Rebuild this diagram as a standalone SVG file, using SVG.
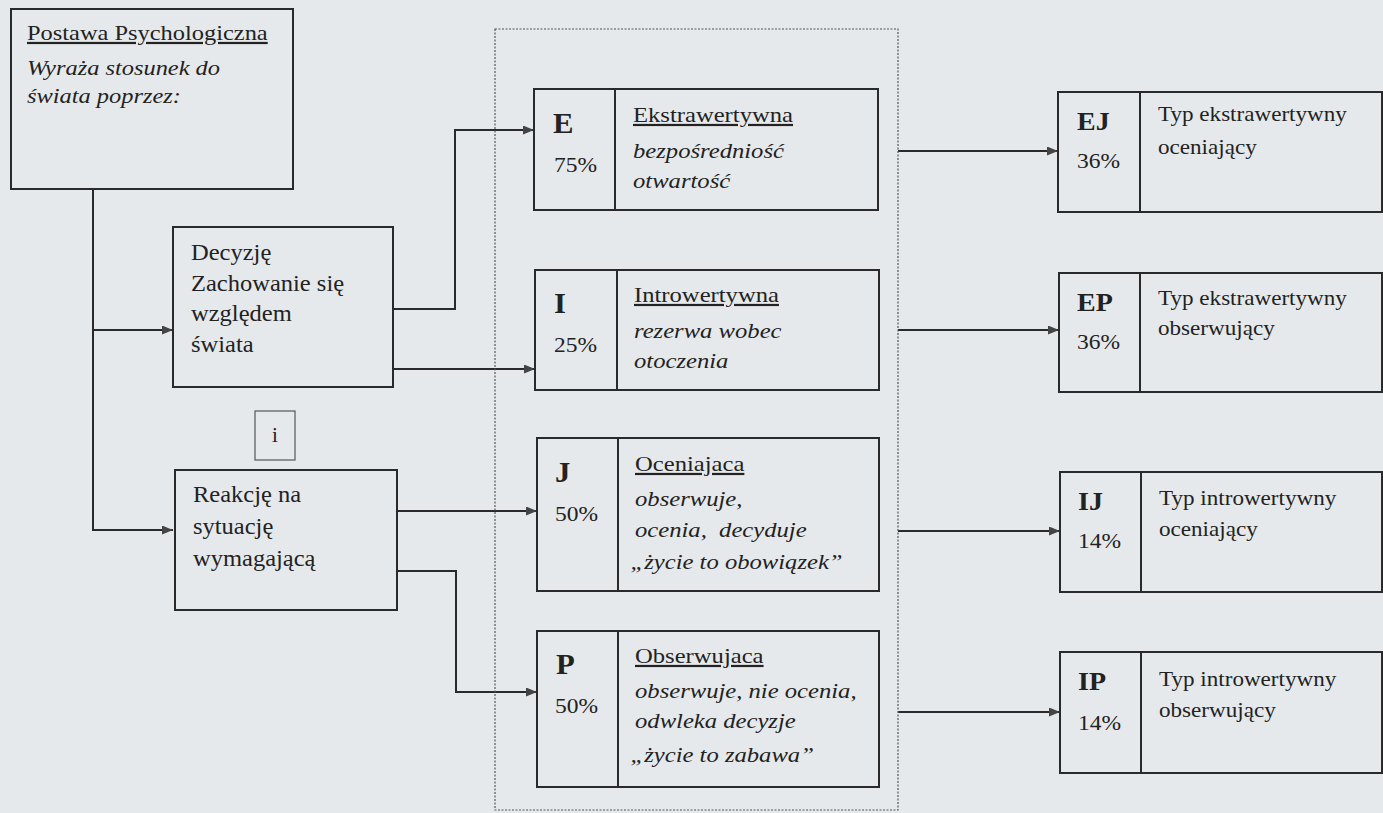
<svg xmlns="http://www.w3.org/2000/svg" width="1383" height="813" viewBox="0 0 1383 813">
<style>
.bg{fill:#e6e9eb}
.box{fill:none;stroke:#2a2a2a;stroke-width:2}
.thin{fill:none;stroke:#555;stroke-width:1.2}
.dot{fill:none;stroke:#555;stroke-width:1.2;stroke-dasharray:2 1.5}
.div{stroke:#2a2a2a;stroke-width:2}
.con{fill:none;stroke:#2a2a2a;stroke-width:2}
text{font-family:"Liberation Serif","Times New Roman",serif;font-size:21px;fill:#222}
.m{font-size:22px}
.l{font-size:22.5px}
.it{font-style:italic}
.u{text-decoration:underline}
.big{font-weight:bold;font-size:29px}
.code{font-weight:bold;font-size:25px}
</style>
<defs>
<marker id="ah" markerUnits="userSpaceOnUse" markerWidth="12" markerHeight="10" refX="11" refY="4.5" orient="auto">
<path d="M0,0 L11,4.5 L0,9 z" fill="#444"/>
</marker>
</defs>
<rect class="bg" x="0" y="0" width="1383" height="813"/>

<g id="connectors">
<path class="con" d="M93,189 V530 H173" marker-end="url(#ah)"/>
<path class="con" d="M93,330 H173" marker-end="url(#ah)"/>
<path class="con" d="M393,309 H455 V130 H534" marker-end="url(#ah)"/>
<path class="con" d="M393,369 H535" marker-end="url(#ah)"/>
<path class="con" d="M397,511 H537" marker-end="url(#ah)"/>
<path class="con" d="M397,571 H456 V692 H537" marker-end="url(#ah)"/>
<path class="con" d="M898,151 H1058" marker-end="url(#ah)"/>
<path class="con" d="M898,330 H1059" marker-end="url(#ah)"/>
<path class="con" d="M898,531 H1060" marker-end="url(#ah)"/>
<path class="con" d="M898,712 H1060" marker-end="url(#ah)"/>
</g>

<g id="group-box">
<rect class="dot" x="495" y="29" width="403" height="781"/>
</g>

<g id="postawa">
<rect class="box" x="11" y="9" width="282" height="180"/>
<text class="m u" transform="translate(27,40) scale(1.11,1)">Postawa Psychologiczna</text>
<text class="m it" transform="translate(27,75) scale(1.11,1)"><tspan x="0" y="0">Wyraża stosunek do</tspan><tspan x="0" y="28">świata poprzez:</tspan></text>
</g>

<g id="decyzje">
<rect class="box" x="173" y="227" width="220" height="160"/>
<text class="l" transform="translate(191,260) scale(1.09,1)"><tspan x="0" y="0">Decyzję</tspan><tspan x="0" y="31">Zachowanie się</tspan><tspan x="0" y="61">względem</tspan><tspan x="0" y="92">świata</tspan></text>
</g>

<g id="i-box">
<rect class="thin" x="255" y="411" width="40" height="49"/>
<text x="275" y="442" text-anchor="middle">i</text>
</g>

<g id="reakcje">
<rect class="box" x="175" y="470" width="222" height="140"/>
<text class="l" transform="translate(193,502) scale(1.09,1)"><tspan x="0" y="0">Reakcję na</tspan><tspan x="0" y="32">sytuację</tspan><tspan x="0" y="64">wymagającą</tspan></text>
</g>

<g id="E">
<rect class="box" x="534" y="89" width="344" height="121"/>
<line class="div" x1="615" y1="89" x2="615" y2="210"/>
<text class="big" transform="translate(553,133) scale(1.06,1)">E</text>
<text transform="translate(554,172) scale(1.12,1)">75%</text>
<text class="m u" transform="translate(633,122) scale(1.12,1)">Ekstrawertywna</text>
<text class="m it" transform="translate(633,158) scale(1.12,1)"><tspan x="0" y="0">bezpośredniość</tspan><tspan x="0" y="30">otwartość</tspan></text>
</g>

<g id="I">
<rect class="box" x="535" y="270" width="344" height="120"/>
<line class="div" x1="617" y1="270" x2="617" y2="390"/>
<text class="big" transform="translate(554,313) scale(1.06,1)">I</text>
<text transform="translate(554,352) scale(1.12,1)">25%</text>
<text class="m u" transform="translate(634,302) scale(1.12,1)">Introwertywna </text>
<text class="m it" transform="translate(634,338) scale(1.12,1)"><tspan x="0" y="0">rezerwa wobec</tspan><tspan x="0" y="30">otoczenia</tspan></text>
</g>

<g id="J">
<rect class="box" x="537" y="438" width="342" height="153"/>
<line class="div" x1="618" y1="438" x2="618" y2="591"/>
<text class="big" transform="translate(555,482) scale(1.06,1)">J</text>
<text transform="translate(555,521) scale(1.12,1)">50%</text>
<text class="m u" transform="translate(635,471) scale(1.12,1)">Oceniajaca</text>
<text class="m it" transform="translate(635,506) scale(1.12,1)"><tspan x="0" y="0">obserwuje,</tspan><tspan x="0" y="31">ocenia,&#160; decyduje</tspan><tspan x="-4" y="63">„życie to obowiązek”</tspan></text>
</g>

<g id="P">
<rect class="box" x="537" y="631" width="342" height="156"/>
<line class="div" x1="618" y1="631" x2="618" y2="787"/>
<text class="big" transform="translate(556,674) scale(1.06,1)">P</text>
<text transform="translate(555,713) scale(1.12,1)">50%</text>
<text class="m u" transform="translate(635,663) scale(1.12,1)">Obserwujaca</text>
<text class="m it" transform="translate(635,698) scale(1.12,1)"><tspan x="0" y="0">obserwuje, nie ocenia,</tspan><tspan x="0" y="30">odwleka decyzje</tspan><tspan x="-4" y="64">„życie to zabawa”</tspan></text>
</g>

<g id="EJ">
<rect class="box" x="1058" y="92" width="324" height="120"/>
<line class="div" x1="1140" y1="92" x2="1140" y2="212"/>
<text class="code" transform="translate(1077,130) scale(1.12,1)">EJ</text>
<text transform="translate(1077,168) scale(1.12,1)">36%</text>
<text transform="translate(1158,121) scale(1.1,1)"><tspan x="0" y="0">Typ ekstrawertywny</tspan><tspan x="0" y="33">oceniający</tspan></text>
</g>

<g id="EP">
<rect class="box" x="1059" y="273" width="323" height="119"/>
<line class="div" x1="1140" y1="273" x2="1140" y2="392"/>
<text class="code" transform="translate(1077,311) scale(1.12,1)">EP</text>
<text transform="translate(1077,349) scale(1.12,1)">36%</text>
<text transform="translate(1158,305) scale(1.1,1)"><tspan x="0" y="0">Typ ekstrawertywny</tspan><tspan x="0" y="30">obserwujący</tspan></text>
</g>

<g id="IJ">
<rect class="box" x="1060" y="472" width="322" height="120"/>
<line class="div" x1="1141" y1="472" x2="1141" y2="592"/>
<text class="code" transform="translate(1078,510) scale(1.12,1)">IJ</text>
<text transform="translate(1078,548) scale(1.12,1)">14%</text>
<text transform="translate(1159,505) scale(1.1,1)"><tspan x="0" y="0">Typ introwertywny</tspan><tspan x="0" y="31">oceniający</tspan></text>
</g>

<g id="IP">
<rect class="box" x="1060" y="652" width="322" height="121"/>
<line class="div" x1="1141" y1="652" x2="1141" y2="773"/>
<text class="code" transform="translate(1078,690) scale(1.12,1)">IP</text>
<text transform="translate(1078,730) scale(1.12,1)">14%</text>
<text transform="translate(1159,686) scale(1.1,1)"><tspan x="0" y="0">Typ introwertywny</tspan><tspan x="0" y="31">obserwujący</tspan></text>
</g>
</svg>
